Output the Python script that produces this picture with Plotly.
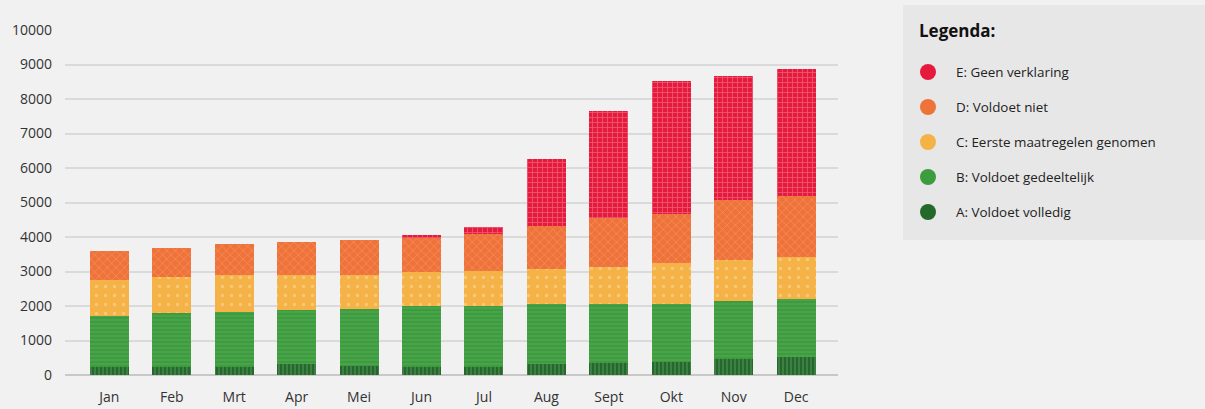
import plotly.graph_objects as go

months = ["Jan", "Feb", "Mrt", "Apr", "Mei", "Jun", "Jul", "Aug", "Sept", "Okt", "Nov", "Dec"]
# cumulative tops of each stacked segment
A_top = [243, 243, 243, 320, 250, 243, 243, 320, 350, 369, 466, 524]
B_top = [1700, 1786, 1815, 1883, 1922, 1990, 1990, 2058, 2058, 2058, 2155, 2204]
C_top = [2740, 2835, 2910, 2910, 2910, 2980, 3010, 3078, 3126, 3233, 3330, 3427]
D_top = [3590, 3680, 3805, 3864, 3903, 3980, 4097, 4331, 4555, 4670, 5087, 5200]
E_top = [3590, 3680, 3805, 3864, 3903, 4068, 4300, 6270, 7650, 8526, 8670, 8866]

series_names = ["A: Voldoet volledig", "B: Voldoet gedeeltelijk", "C: Eerste maatregelen genomen",
                "D: Voldoet niet", "E: Geen verklaring"]
legend_order = ["E: Geen verklaring", "D: Voldoet niet", "C: Eerste maatregelen genomen",
                "B: Voldoet gedeeltelijk", "A: Voldoet volledig"]
legend_title = "Legenda:"
y_ticks = list(range(0, 10001, 1000))

colors = {"A": "#22692a", "B": "#3d9c3d", "C": "#f4b247", "D": "#ef7239", "E": "#e61a3c"}
patterns = {"A": ("|", 4, 0.25), "B": ("-", 4, 0.12), "C": (".", 9, 0.12),
            "D": ("x", 6, 0.18), "E": ("+", 5, 0.3)}


def diff(top, bottom):
    return [t - b for t, b in zip(top, bottom)]


segments = {
    "A": A_top,
    "B": diff(B_top, A_top),
    "C": diff(C_top, B_top),
    "D": diff(D_top, C_top),
    "E": diff(E_top, D_top),
}

fig = go.Figure()
for key, name in zip(["A", "B", "C", "D", "E"], series_names):
    shp, sz, sol = patterns[key]
    fig.add_trace(go.Bar(
        x=months, y=segments[key], name=name,
        marker=dict(color=colors[key], line=dict(width=0),
                    pattern=dict(shape=shp, fgcolor="rgba(255,255,255,0.55)", size=sz, solidity=sol)),
        width=0.625, showlegend=False,
    ))

W, H = 1205, 409
L, R, T, B = 65, 838, 30, 375


def px(x):
    return (x - L) / (R - L)


def py(y):
    return (B - y) / (B - T)


shapes = [dict(type="rect", xref="paper", yref="paper", x0=px(903), x1=px(1205), y0=py(240), y1=py(5),
               fillcolor="#e7e7e7", line=dict(width=0), layer="below")]
annotations = [dict(text="<b>" + legend_title + "</b>", xref="paper", yref="paper", x=px(917), y=py(31),
                    xanchor="left", yanchor="middle", showarrow=False,
                    font=dict(family="Open Sans", size=17, color="#111"))]
for i, name in enumerate(legend_order):
    cy = 72 + i * 35
    shapes.append(dict(type="circle", xref="paper", yref="paper",
                       x0=px(920), x1=px(936), y0=py(cy + 8), y1=py(cy - 8),
                       fillcolor=colors[name[0]], line=dict(width=0)))
    annotations.append(dict(text=name, xref="paper", yref="paper", x=px(954), y=py(cy),
                            xanchor="left", yanchor="middle", showarrow=False,
                            font=dict(family="Open Sans", size=13.4, color="#222")))

fig.update_layout(
    width=W, height=H,
    margin=dict(l=L, r=W - R, t=T, b=H - B, pad=0),
    barmode="stack", bargap=0.375,
    paper_bgcolor="#f1f1f1", plot_bgcolor="#f1f1f1",
    font=dict(family="Open Sans", color="#333"),
    shapes=shapes, annotations=annotations,
    xaxis=dict(range=[-0.71, 11.67], showgrid=False, zeroline=False, showline=False, automargin=False,
               tickfont=dict(size=14, color="#333"), ticks="", ticklabelstandoff=12, fixedrange=True),
    yaxis=dict(range=[0, 10000], tickvals=y_ticks, tickformat="d", showgrid=True, automargin=False,
               gridcolor="#dadada", gridwidth=1.5,
               zeroline=True, zerolinecolor="#c8c8c8", zerolinewidth=2, showline=False,
               tickfont=dict(size=14, color="#333"), ticks="", ticklabelstandoff=12, fixedrange=True),
)

fig.write_html("out.html", config={"displayModeBar": False},
               post_script="document.body.style.margin='0';document.body.style.overflow='hidden';"
                           "document.body.style.background='#f1f1f1';")
